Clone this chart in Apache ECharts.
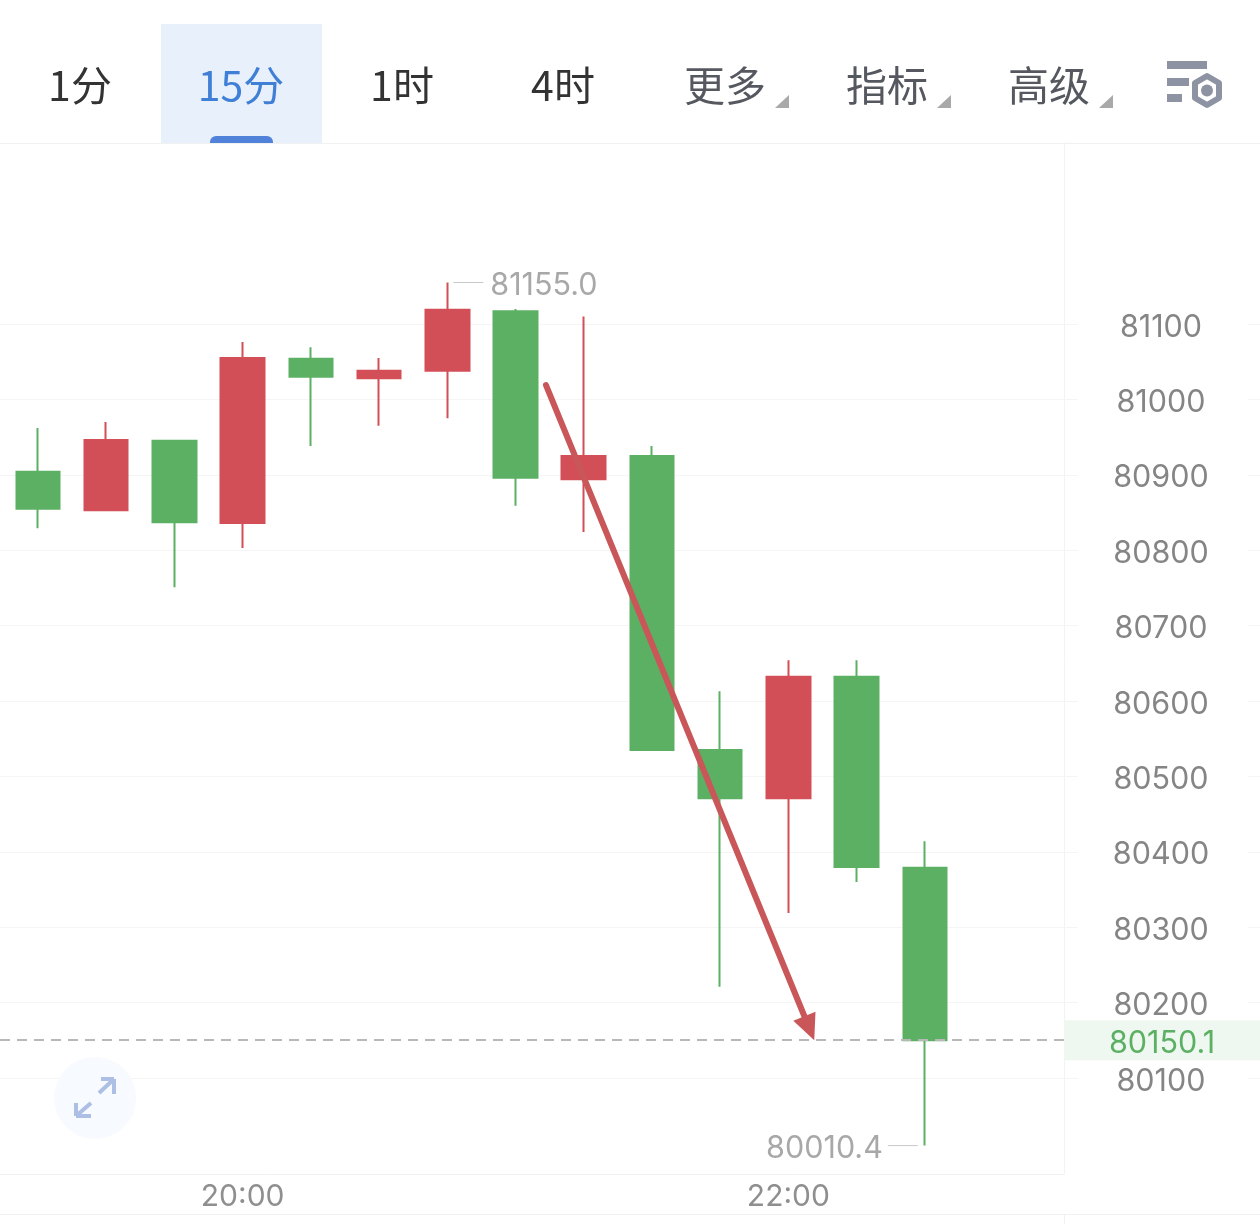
<!DOCTYPE html>
<html><head><meta charset="utf-8">
<style>html,body{margin:0;padding:0;background:#fff}#c{width:1260px;height:1224px}</style>
<script src="https://cdn.jsdelivr.net/npm/echarts@6/dist/echarts.min.js"></script>
</head><body><div id="c"></div>
<script>
// minutes since midnight for each 15-minute bar (19:15 ... 22:30)
const times = [1155,1170,1185,1200,1215,1230,1245,1260,1275,1290,1305,1320,1335,1350];
const opens  = [80904,80853,80945,80836,81054,81028,81038,81117,80894,80925,80535,80471,80632,80379];
const closes = [80855,80946,80837,81055,81030,81038,81119,80896,80925,80535,80471,80632,80380,80150.1];
const lows   = [80829,80853,80751,80803,80938,80965,80975,80859,80824,80535,80221,80319,80360,80010.4];
const highs  = [80962,80970,80945,81076,81069,81055,81155,81120,81110,80938,80613,80654,80654,80414];
const priceTicks = [80100,80200,80300,80400,80500,80600,80700,80800,80900,81000,81100];
const timeTicks = [1200,1320];
const lastPrice = 80150.1;
const highPoint = [1245,81155.0];
const lowPoint = [1350,80010.4];
const arrowFrom = [1266.7,81019];
const arrowTo = [1324.6,80166];
const tabs = ['1分','15分','1时','4时','更多','指标','高级'];

const RED='#d34f57', GREEN='#5cb063', GRID='#f5f5f5';
const NUM='Inter, Lato, sans-serif', CJK='"Noto Sans CJK SC", sans-serif';
const xMin=1146.65, xMax=1380.6, yMin=79972.7, yMax=81340;
const fmtTime=v=>{const h=Math.floor(v/60),m=Math.round(v-h*60);return String(h).padStart(2,'0')+':'+String(m).padStart(2,'0');};

const tabX=[80,241,402,563,725,887,1049], tabColor=['#333','#3f7fd6','#333','#333','#55585f','#55585f','#55585f'];
const g=[];
g.push({type:'rect',shape:{x:161,y:24,width:161,height:119},style:{fill:'#e7f0fb'},z:1});
g.push({type:'rect',shape:{x:210,y:136,width:63,height:7,r:[6,6,0,0]},style:{fill:'#4f82d8'},z:2});
tabs.forEach((t,i)=>g.push({type:'text',x:tabX[i],y:85,z:3,style:{text:t,fill:tabColor[i],font:'41px '+CJK,align:'center',verticalAlign:'middle'}}));
[[789,775],[951,937],[1113,1099]].forEach(p=>g.push({type:'polygon',shape:{points:[[p[0],95],[p[0],108],[p[1],108]]},style:{fill:'#a9a9a9'},z:3}));
// settings icon
g.push({type:'rect',shape:{x:1167,y:61,width:40,height:8},style:{fill:'#8e93a3'},z:3});
g.push({type:'rect',shape:{x:1167,y:78,width:22,height:8},style:{fill:'#8e93a3'},z:3});
g.push({type:'rect',shape:{x:1167,y:94,width:15,height:8},style:{fill:'#8e93a3'},z:3});
g.push({type:'polygon',shape:{points:[[1207,76],[1219,83],[1219,98],[1207,105],[1195,98],[1195,83]]},style:{fill:'#fff',stroke:'#8e93a3',lineWidth:6,lineJoin:'round'},z:3});
g.push({type:'circle',shape:{cx:1207,cy:90.5,r:6},style:{fill:'#8e93a3'},z:3});
// frame lines
g.push({type:'line',shape:{x1:0,y1:143.5,x2:1260,y2:143.5},style:{stroke:'#f1f1f1',lineWidth:1},z:0});
g.push({type:'line',shape:{x1:0,y1:1214.5,x2:1260,y2:1214.5},style:{stroke:'#f1f1f1',lineWidth:1},z:0});
g.push({type:'line',shape:{x1:1064.5,y1:1215,x2:1064.5,y2:1224},style:{stroke:'#f1f1f1',lineWidth:1},z:0});
// expand button
g.push({type:'circle',shape:{cx:95,cy:1098,r:41},style:{fill:'#f7fafe'},z:3});
const ac='#aebfe6';
[[[99,1093],[114,1079]],[[101,1079],[114,1079]],[[114,1079],[114,1094]],[[91,1103],[76,1116]],[[76,1103],[76,1116]],[[76,1116],[91,1116]]].forEach(s=>
 g.push({type:'line',shape:{x1:s[0][0],y1:s[0][1],x2:s[1][0],y2:s[1][1]},style:{stroke:ac,lineWidth:4},z:4}));

const chart=echarts.init(document.getElementById('c'),null,{renderer:'canvas'});
chart.setOption({
 animation:false,backgroundColor:'#fff',
 grid:{left:0,top:143,width:1064,height:1031,containLabel:false},
 graphic:g,
 xAxis:{type:'value',min:xMin,max:xMax,
  axisLine:{show:true,onZero:false,lineStyle:{color:'#f1f1f1'}},
  axisTick:{show:false,customValues:timeTicks},
  splitLine:{show:false},
  axisLabel:{customValues:timeTicks,formatter:fmtTime,color:'#8f8f8f',fontFamily:NUM,fontSize:30,margin:8,hideOverlap:false,showMinLabel:true,showMaxLabel:true}},
 yAxis:[{type:'value',min:yMin,max:yMax,position:'right',scale:true,
  axisLine:{show:true,onZero:false,lineStyle:{color:'#f3f3f3'}},
  axisTick:{show:true,length:14,customValues:priceTicks,lineStyle:{color:GRID}},
  splitLine:{show:true,lineStyle:{color:GRID,width:1}},
  axisLabel:{customValues:priceTicks,margin:97,align:'center',verticalAlign:'middle',formatter:v=>'{a|'+v+'}',
   rich:{a:{color:'#858585',fontFamily:NUM,fontSize:30.5,padding:[7,0,0,0]}}}},
 {type:'value',min:yMin,max:yMax,position:'right',offset:184,scale:true,
  axisLine:{show:false},splitLine:{show:false},axisLabel:{show:false},
  axisTick:{show:true,length:12,customValues:priceTicks,lineStyle:{color:GRID}}}],
 series:[{type:'candlestick',barWidth:44,clip:false,
  data:times.map((t,i)=>[t,opens[i],closes[i],lows[i],highs[i]]),
  encode:{x:0,y:[1,2,3,4]},
  itemStyle:{color:RED,color0:GREEN,borderColor:RED,borderColor0:GREEN,borderWidth:2},
  markPoint:{symbol:'circle',symbolSize:0,silent:true,animation:false,
   data:[
    {coord:highPoint,label:{show:true,position:'right',distance:6,formatter:'{r|}{v|'+highPoint[1].toFixed(1)+'}',
      rich:{r:{width:30,height:1,backgroundColor:'#c8c8c8'},v:{color:'#a8a8a8',fontFamily:NUM,fontSize:30.5,padding:[6,0,0,7]}}}},
    {coord:lowPoint,label:{show:true,position:'left',distance:7,formatter:'{v|'+lowPoint[1].toFixed(1)+'}{r|}',
      rich:{r:{width:30,height:1,backgroundColor:'#c8c8c8'},v:{color:'#a8a8a8',fontFamily:NUM,fontSize:30.5,padding:[6,5,0,0]}}}}
   ]},
  markLine:{silent:true,animation:false,symbol:'none',
   data:[
    {yAxis:lastPrice,lineStyle:{color:'#b8b8b8',type:[10,7],width:2},
     label:{show:true,position:'end',distance:98,formatter:'{a|'+lastPrice.toFixed(1)+'}',width:196,height:40,align:'center',verticalAlign:'middle',backgroundColor:'#eef8f0',
      rich:{a:{color:'#5cb063',fontFamily:NUM,fontSize:30.5,padding:[8,0,0,0]}}}},
    [{coord:arrowFrom,symbol:'none'},
     {coord:arrowTo,symbol:'triangle',symbolSize:[24,26],lineStyle:{color:'#c9575a',width:6,type:'solid',cap:'round'},label:{show:false}}]
   ]}
 }]
});
</script></body></html>
